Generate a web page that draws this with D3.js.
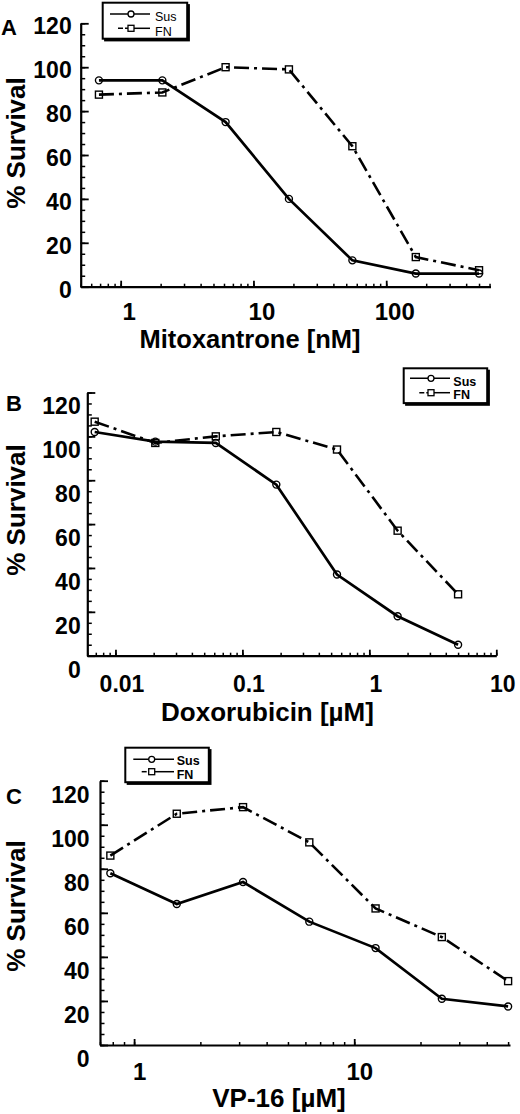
<!DOCTYPE html>
<html>
<head>
<meta charset="utf-8">
<script src="https://cdn.jsdelivr.net/npm/d3@7"></script>
<style>
  html, body { margin: 0; padding: 0; background: #fff; }
  svg { display: block; font-family: "Liberation Sans", Arial, Helvetica, sans-serif; }
</style>
</head>
<body>
<svg id="chart" width="520" height="1114"></svg>
<script>
// ---------- DATA ----------
const seriesNames = ["Sus", "FN"];

const mitoConc = [0.686, 2.06, 6.17, 18.5, 55.6, 167, 500];      // nM
const mitoSus  = [94, 94, 75, 40, 12, 6, 6];
const mitoFN   = [87.5, 88.5, 100, 99, 64, 13.5, 7.5];

const doxoConc = [0.00686, 0.0206, 0.0617, 0.185, 0.556, 1.67, 5]; // µM
const doxoSus  = [102, 97.6, 97, 78, 37, 18, 5];
const doxoFN   = [106.7, 97, 100, 102, 94, 57, 28];

const vpConc = [0.78, 1.5625, 3.125, 6.25, 12.5, 25, 50];           // µM
const vpSus  = [78, 64, 74, 56, 44, 21, 17.5];
const vpFN   = [86, 105, 108, 92, 62, 49, 29];

const yTickValues = [0, 20, 40, 60, 80, 100, 120];
const yTickLabels = ["0", "20", "40", "60", "80", "100", "120"];

const mitoXTicks = [1, 10, 100];
const mitoXLabels = ["1", "10", "100"];
const doxoXTicks = [0.01, 0.1, 1, 10];
const doxoXLabels = ["0.01", "0.1", "1", "10"];
const vpXTicks = [1, 10];
const vpXLabels = ["1", "10"];

const panelLetters = ["A", "B", "C"];
const xTitles = ["Mitoxantrone [nM]", "Doxorubicin [µM]", "VP-16 [µM]"];
const yTitle = "% Survival";

// ---------- DRAWING ----------
const svg = d3.select("#chart");
svg.append("rect").attr("width", 520).attr("height", 1114).attr("fill", "#fff");

const FN_DASH = "15,5,3,5";

function logMinor(domain) {
  const out = [];
  const p0 = Math.floor(Math.log10(domain[0])), p1 = Math.ceil(Math.log10(domain[1]));
  for (let p = p0; p <= p1; p++) {
    for (let k = 1; k <= 9; k++) {
      const v = k * Math.pow(10, p);
      if (v >= domain[0] * 0.999 && v <= domain[1] * 1.001) out.push(v);
    }
  }
  return out;
}

function drawPanel(cfg) {
  const g = svg.append("g");
  const x = d3.scaleLog().domain(cfg.xDomain).range(cfg.xRange);
  const y = d3.scaleLinear().domain([0, 120]).range(cfg.yRange);
  const x0 = cfg.xRange[0], yb = cfg.yRange[0];

  // minor x ticks
  g.append("g").attr("transform", `translate(0,${yb})`)
    .call(d3.axisBottom(x).tickValues(logMinor(cfg.xDomain)).tickSizeInner(-3).tickSizeOuter(0).tickFormat(""))
    .call(s => s.select(".domain").remove())
    .call(s => s.selectAll("line").attr("stroke", "#000").attr("stroke-width", 1.5));
  // major x ticks + labels
  const xa = g.append("g").attr("transform", `translate(0,${yb})`)
    .call(d3.axisBottom(x).tickValues(cfg.xTicks).tickSizeInner(-6).tickSizeOuter(0)
      .tickFormat((d, i) => cfg.xLabels[i]));
  xa.select(".domain").attr("stroke", "#000").attr("stroke-width", 2.2);
  xa.selectAll("line").attr("stroke", "#000").attr("stroke-width", 1.8);
  xa.selectAll("text")
    .attr("y", cfg.xLabelBase - yb).attr("dy", 0).attr("dx", cfg.xLabelDx)
    .attr("fill", "#000").attr("font-size", cfg.xLabelSize).attr("font-weight", "bold")
    .attr("font-family", "Liberation Sans, Arial, sans-serif");

  // y minor ticks
  g.append("g").attr("transform", `translate(${x0},0)`)
    .call(d3.axisLeft(y).tickValues(d3.range(0, 121, 5)).tickSizeInner(-4.5).tickSizeOuter(0).tickFormat(""))
    .call(s => s.select(".domain").remove())
    .call(s => s.selectAll("line").attr("stroke", "#000").attr("stroke-width", 1.5));
  // y major ticks + labels
  const ya = g.append("g").attr("transform", `translate(${x0},0)`)
    .call(d3.axisLeft(y).tickValues(yTickValues).tickSizeInner(-8).tickSizeOuter(0)
      .tickFormat((d, i) => yTickLabels[i]));
  ya.select(".domain").attr("stroke", "#000").attr("stroke-width", 2.2);
  ya.selectAll("line").attr("stroke", "#000").attr("stroke-width", 1.8);
  ya.selectAll("text")
    .attr("x", -cfg.yLabelGap).attr("dy", 0).attr("y", 0)
    .attr("transform", `translate(0,${cfg.yLabelDy + 8.3})`)
    .attr("text-anchor", "end")
    .attr("fill", "#000").attr("font-size", 23).attr("font-weight", "bold")
    .attr("font-family", "Liberation Sans, Arial, sans-serif");

  // series
  const pts = (vals) => cfg.conc.map((c, i) => [x(c), y(vals[i])]);
  const line = d3.line();
  g.append("path").attr("d", line(pts(cfg.fn))).attr("fill", "none")
    .attr("stroke", "#000").attr("stroke-width", 2.6).attr("stroke-dasharray", FN_DASH);
  g.append("path").attr("d", line(pts(cfg.sus))).attr("fill", "none")
    .attr("stroke", "#000").attr("stroke-width", 2.7);
  g.selectAll(".sq").data(pts(cfg.fn)).join("rect")
    .attr("x", d => d[0] - 3.5).attr("y", d => d[1] - 3.5).attr("width", 7).attr("height", 7)
    .attr("fill", "none").attr("stroke", "#000").attr("stroke-width", 1.4);
  g.selectAll(".ci").data(pts(cfg.sus)).join("circle")
    .attr("cx", d => d[0]).attr("cy", d => d[1]).attr("r", 3.5)
    .attr("fill", "none").attr("stroke", "#000").attr("stroke-width", 1.4);

  // panel letter
  g.append("text").attr("x", cfg.letterX).attr("y", cfg.letterY).text(cfg.letter)
    .attr("font-size", 22).attr("font-weight", "bold").attr("fill", "#000");
  // y title
  g.append("text").attr("transform", `translate(25,${cfg.yTitleCy}) rotate(-90)`)
    .attr("text-anchor", "middle").text(yTitle)
    .attr("font-size", 26).attr("font-weight", "bold").attr("fill", "#000");
  // x title
  g.append("text").attr("x", cfg.xTitleCx).attr("y", cfg.xTitleBase)
    .attr("text-anchor", "middle").text(cfg.xTitle)
    .attr("font-size", cfg.xTitleSize).attr("font-weight", "bold").attr("fill", "#000");

  // legend
  const L = cfg.legend;
  const lg = g.append("g");
  lg.append("rect").attr("x", L.x + 1.4).attr("y", L.y + 1.4).attr("width", L.w + 1.3).attr("height", L.h + 1.3).attr("fill", "#000");
  lg.append("rect").attr("x", L.x).attr("y", L.y).attr("width", L.w).attr("height", L.h)
    .attr("fill", "#fff").attr("stroke", "#000").attr("stroke-width", 2);
  // Sus
  lg.append("line").attr("x1", L.susX1).attr("x2", L.lineX2).attr("y1", L.susY).attr("y2", L.susY)
    .attr("stroke", "#000").attr("stroke-width", 1.5);
  lg.append("circle").attr("cx", L.markX).attr("cy", L.susY).attr("r", 3)
    .attr("fill", "#fff").attr("stroke", "#000").attr("stroke-width", 1.3);
  lg.append("text").attr("x", L.textX).attr("y", L.susBase).text(seriesNames[0])
    .attr("font-size", 12.5).attr("font-weight", L.bold ? "bold" : "normal").attr("fill", "#000");
  // FN
  lg.append("line").attr("x1", L.fnX1).attr("x2", L.markX - 3).attr("y1", L.fnY).attr("y2", L.fnY)
    .attr("stroke", "#000").attr("stroke-width", 1.5).attr("stroke-dasharray", "5,2,6");
  lg.append("line").attr("x1", L.markX + 3).attr("x2", L.lineX2).attr("y1", L.fnY).attr("y2", L.fnY)
    .attr("stroke", "#000").attr("stroke-width", 1.5);
  lg.append("rect").attr("x", L.markX - 3).attr("y", L.fnY - 3).attr("width", 6).attr("height", 6)
    .attr("fill", "#fff").attr("stroke", "#000").attr("stroke-width", 1.3);
  lg.append("text").attr("x", L.textX).attr("y", L.fnBase).text(seriesNames[1])
    .attr("font-size", 12.5).attr("font-weight", L.bold ? "bold" : "normal").attr("fill", "#000");
}

drawPanel({
  letter: panelLetters[0], letterX: 1, letterY: 35,
  conc: mitoConc, sus: mitoSus, fn: mitoFN,
  xDomain: [0.5, 610], xRange: [80.7, 490.5], yRange: [286.7, 23.3],
  xTicks: mitoXTicks, xLabels: mitoXLabels, xLabelBase: 320.5, xLabelDx: 8, xLabelSize: 24,
  yLabelGap: 9, yLabelDy: 2,
  yTitleCy: 143, xTitle: xTitles[0], xTitleCx: 250, xTitleBase: 347.5, xTitleSize: 25.5,
  legend: { x: 102.7, y: 2.7, w: 84.5, h: 36, susX1: 110, fnX1: 118, lineX2: 150, markX: 131,
            susY: 14, fnY: 28.3, textX: 155, susBase: 21, fnBase: 35.5, bold: false }
});

drawPanel({
  letter: panelLetters[1], letterX: 6, letterY: 410.7,
  conc: doxoConc, sus: doxoSus, fn: doxoFN,
  xDomain: [0.006, 10], xRange: [87.3, 496.3], yRange: [655.7, 392.5],
  xTicks: doxoXTicks, xLabels: doxoXLabels, xLabelBase: 692, xLabelDx: 6, xLabelSize: 23,
  yLabelGap: 6.6, yLabelDy: 13,
  yTitleCy: 510, xTitle: xTitles[1], xTitleCx: 267.5, xTitleBase: 721, xTitleSize: 26,
  legend: { x: 403.7, y: 368.3, w: 83.5, h: 34.8, susX1: 410, fnX1: 419.3, lineX2: 450, markX: 431,
            susY: 378.3, fnY: 392.7, textX: 453.3, susBase: 385.7, fnBase: 399.3, bold: true }
});

drawPanel({
  letter: panelLetters[2], letterX: 6, letterY: 804,
  conc: vpConc, sus: vpSus, fn: vpFN,
  xDomain: [0.7, 51], xRange: [100, 510], yRange: [1045, 780.7],
  xTicks: vpXTicks, xLabels: vpXLabels, xLabelBase: 1080, xLabelDx: 5, xLabelSize: 24,
  yLabelGap: 10.5, yLabelDy: 13,
  yTitleCy: 906, xTitle: xTitles[2], xTitleCx: 279, xTitleBase: 1107, xTitleSize: 26,
  legend: { x: 125.3, y: 747.7, w: 83.5, h: 34.5, susX1: 133.3, fnX1: 141.7, lineX2: 174, markX: 151.7,
            susY: 759.3, fnY: 771.7, textX: 176.7, susBase: 765, fnBase: 779.3, bold: true }
});
</script>
</body>
</html>
